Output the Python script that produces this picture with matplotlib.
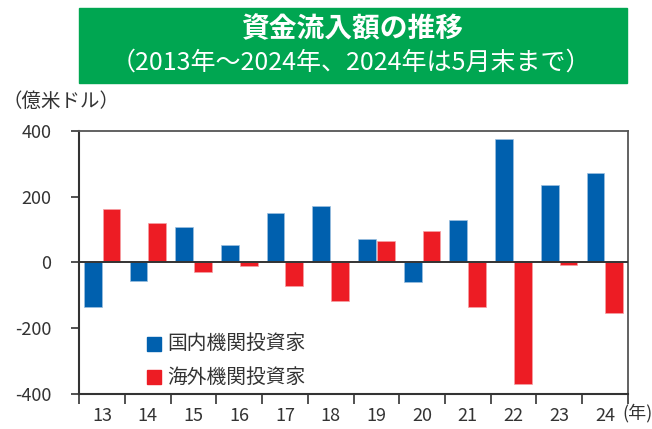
import matplotlib
matplotlib.use("Agg")
import matplotlib.pyplot as plt
import numpy as np
from matplotlib.patches import Rectangle

plt.rcParams['font.family'] = ['Noto Sans CJK JP', 'DejaVu Sans']

years = ["13", "14", "15", "16", "17", "18", "19", "20", "21", "22", "23", "24"]
domestic = [-134, -56, 107, 52, 151, 172, 71, -59, 130, 374, 235, 271]
foreign = [163, 120, -29, -12, -72, -116, 64, 97, -135, -370, -7, -152]
series_names = ["国内機関投資家", "海外機関投資家"]
yticks = [400, 200, 0, -200, -400]
title1 = "資金流入額の推移"
title2 = "（2013年～2024年、2024年は5月末まで）"
unit_label = "（億米ドル）"
year_unit = "(年)"

blue = "#0060AE"
red = "#ED1C24"
green = "#00A651"
dark = "#333333"

fig = plt.figure(figsize=(6.52, 4.29), dpi=100)
ax = fig.add_axes([79.3/652, 1-394.3/429, (627.7-79.3)/652, (394.3-130.7)/429])

x = np.arange(len(years)) + 0.5
w = 0.39
off = 0.205
ax.bar(x - off, domestic, width=w, color=blue, edgecolor="#9cc0e0", linewidth=0.5, zorder=2)
ax.bar(x + off, foreign, width=w, color=red, edgecolor="#f5a0a4", linewidth=0.5, zorder=2)

ax.set_xlim(0, len(years))
ax.set_ylim(-400, 400)
ax.axhline(0, color=dark, linewidth=1.4, zorder=3)

ax.set_yticks(yticks)
ax.set_yticklabels([str(v) if v >= 0 else "-" + str(-v) for v in yticks], fontsize=13, color=dark)
ax.set_xticks(np.arange(len(years) + 1))
ax.set_xticklabels([])
ax.set_xticks(x, minor=True)
ax.set_xticklabels(years, minor=True, fontsize=13, color=dark)
ax.tick_params(axis='x', which='major', direction='out', length=7, width=1.2, color=dark)
ax.tick_params(axis='x', which='minor', length=0, pad=9)
ax.tick_params(axis='y', direction='out', length=6, width=1.2, color=dark, pad=14)
for s in ["left", "bottom"]:
    ax.spines[s].set_color(dark)
    ax.spines[s].set_linewidth(1.5)
for s in ["top", "right"]:
    ax.spines[s].set_color("#555555")
    ax.spines[s].set_linewidth(1.3)

# "(年)" after last label
fig.text(637/652, 1-413/429, year_unit, fontsize=13, color=dark, ha='center', va='center')

# legend
for i, (name, col) in enumerate(zip(series_names, [blue, red])):
    yc = 343.5 + i * 33.5
    fig.patches.append(Rectangle((147/652, 1-(yc+7)/429), 14/652, 14/429,
                                 transform=fig.transFigure, color=col, figure=fig))
    fig.text(167/652, 1-yc/429, name, fontsize=14.2, color=dark, ha='left', va='center')

# title box
fig.patches.append(Rectangle((79/652, 1-83/429), (627-79)/652, (83-8)/429,
                             transform=fig.transFigure, color=green, figure=fig))
fig.text(352/652, 1-29/429, title1, fontsize=20, color='white', ha='center', va='center', fontweight='bold')
fig.text(351/652, 1-63/429, title2, fontsize=18, color='white', ha='center', va='center')

fig.text(2/652, 1-101/429, unit_label, fontsize=14, color=dark, ha='left', va='center')

fig.savefig("out.png", dpi=100)
